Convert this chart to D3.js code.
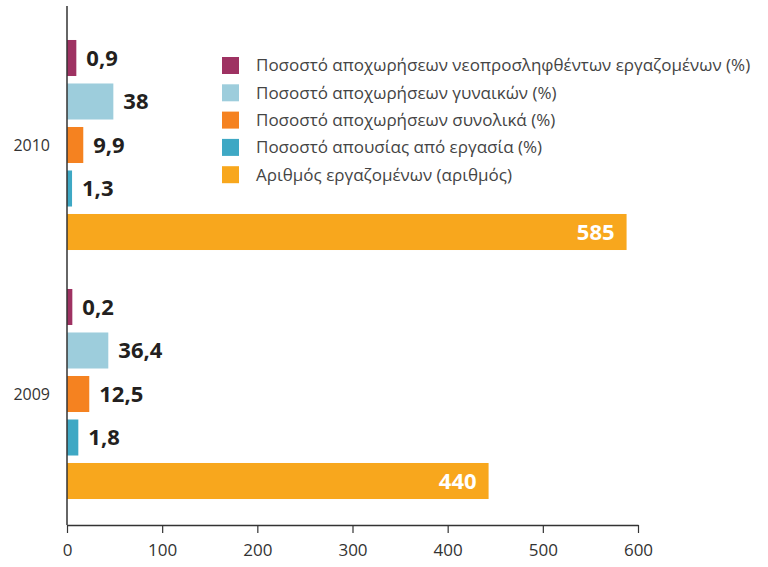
<!DOCTYPE html>
<html>
<head>
<meta charset="utf-8">
<script src="https://cdn.jsdelivr.net/npm/d3@7"></script>
<style>
  body { margin: 0; background: #fff; }
  svg text { font-family: "Open Sans", "Noto Sans", sans-serif; }
</style>
</head>
<body>
<svg id="chart" width="768" height="567"></svg>
<script>
// years, top to bottom
const years = ['2010', '2009']

// series names (legend order = bar order inside each year)
const series = [
  'Ποσοστό αποχωρήσεων νεοπροσληφθέντων εργαζομένων (%)',
  'Ποσοστό αποχωρήσεων γυναικών (%)',
  'Ποσοστό αποχωρήσεων συνολικά (%)',
  'Ποσοστό απουσίας από εργασία (%)',
  'Αριθμός εργαζομένων (αριθμός)'
]
const colors = ['#9e3262', '#9dcddc', '#f58220', '#3ea8c4', '#f8a71d']

// printed labels
const labels2010 = ['0,9', '38', '9,9', '1,3', '585']
const labels2009 = ['0,2', '36,4', '12,5', '1,8', '440']

// bar lengths as drawn in the picture (axis units)
const bars2010 = [9.8, 48.7, 17.1, 5.3, 588]
const bars2009 = [5.6, 43.4, 23.4, 11.9, 443]

const xTicks = [0, 100, 200, 300, 400, 500, 600]

const svg = d3.select('#chart')

const x = d3.scaleLinear().domain([0, 600]).range([67, 638])

const yYear = d3.scaleBand().domain(years).range([20.5, 518.5]).padding(0)
const ySer = d3.scaleBand().domain(d3.range(series.length))
  .range([0, yYear.bandwidth()])
  .paddingInner(0.172).paddingOuter(0.448)

const rows = []
years.forEach(function (yr, yi) {
  const vals = yi === 0 ? bars2010 : bars2009
  const labs = yi === 0 ? labels2010 : labels2009
  vals.forEach(function (v, i) {
    rows.push({ year: yr, i: i, value: v, label: labs[i] })
  })
})

// bars
svg.append('g').selectAll('rect')
  .data(rows)
  .enter()
  .append('rect')
  .attr('x', x(0))
  .attr('y', d => yYear(d.year) + ySer(d.i))
  .attr('width', d => x(d.value) - x(0))
  .attr('height', ySer.bandwidth())
  .attr('fill', d => colors[d.i])

// value labels
svg.append('g').selectAll('text')
  .data(rows)
  .enter()
  .append('text')
  .attr('x', d => d.i === 4 ? x(d.value) - 12 : x(d.value) + 10)
  .attr('y', d => yYear(d.year) + ySer(d.i) + ySer.bandwidth() / 2)
  .attr('dy', '0.36em')
  .attr('text-anchor', d => d.i === 4 ? 'end' : 'start')
  .attr('font-size', 22)
  .attr('font-weight', 'bold')
  .attr('fill', d => d.i === 4 ? '#fff' : '#231f20')
  .text(d => d.label)

// x axis
const xAxis = d3.axisBottom(x).tickValues(xTicks).tickSize(8).tickSizeOuter(0).tickFormat(d3.format('d'))
const gx = svg.append('g').attr('transform', 'translate(0,525)').call(xAxis)
gx.attr('font-size', null).attr('font-family', null)
gx.select('.domain').attr('stroke', '#333').attr('stroke-width', 1.5)
gx.selectAll('.tick line').attr('stroke', '#333').attr('stroke-width', 1.2)
gx.selectAll('.tick text')
  .attr('y', 19)
  .style('font-size', '17px')
  .attr('fill', '#333')

// y axis line
svg.append('line')
  .attr('x1', x(0)).attr('x2', x(0))
  .attr('y1', 6).attr('y2', 525)
  .attr('stroke', '#333').attr('stroke-width', 1.5)

// year labels
svg.append('g').selectAll('text')
  .data(years)
  .enter()
  .append('text')
  .attr('x', 50)
  .attr('y', d => yYear(d) + yYear.bandwidth() / 2)
  .attr('dy', '0.35em')
  .attr('text-anchor', 'end')
  .style('font-size', '16px')
  .attr('fill', '#333')
  .text(d => d)

// legend
const legend = svg.append('g').attr('transform', 'translate(222,57)')
const item = legend.selectAll('g')
  .data(series)
  .enter()
  .append('g')
  .attr('transform', (d, i) => 'translate(0,' + (i * 27.3) + ')')
item.append('rect')
  .attr('width', 17).attr('height', 17)
  .attr('fill', (d, i) => colors[i])
item.append('text')
  .attr('x', 34)
  .attr('y', 8.5)
  .attr('dy', '0.35em')
  .style('font-size', '17px')
  .attr('fill', '#444')
  .text(d => d)
</script>
</body>
</html>
